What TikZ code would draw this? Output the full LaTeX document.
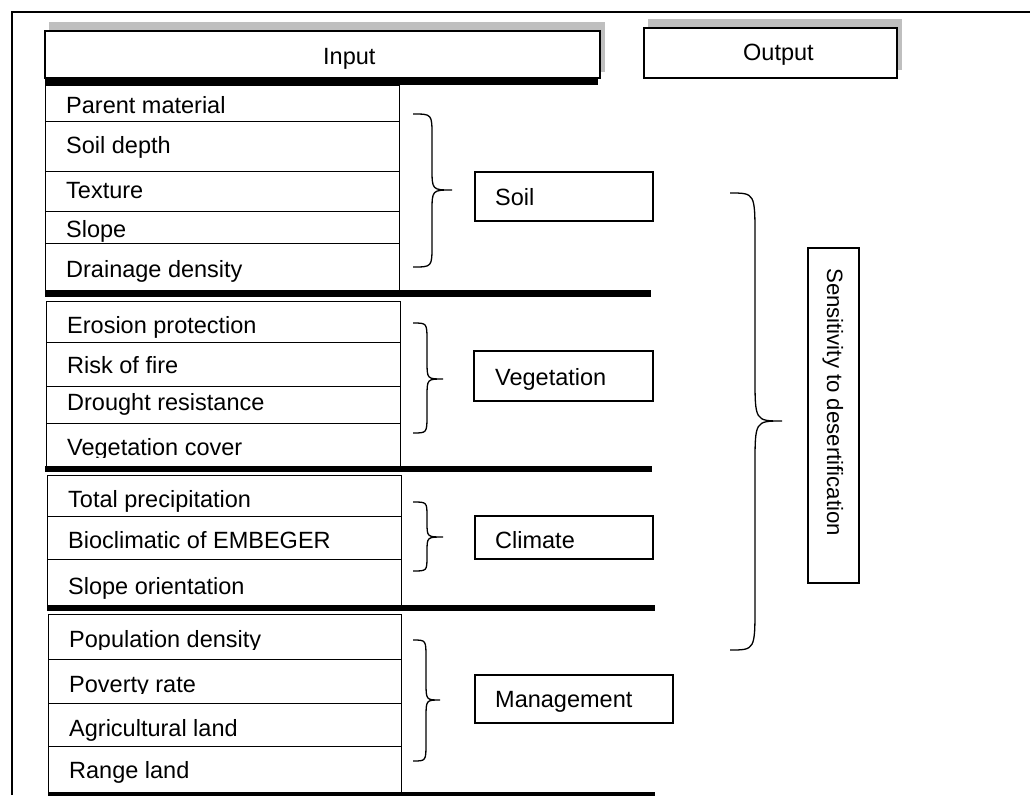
\documentclass[tikz,border=0pt]{standalone}
\usepackage{fontspec}
\setmainfont{Liberation Sans}
\begin{document}
\begin{tikzpicture}[x=1pt,y=-1pt,
  rowbox/.style={draw=black,line width=1pt},
  labelbox/.style={draw=black,line width=1.3pt},
  bar/.style={fill=black},
  shade/.style={fill=black!25},
  txt/.style={inner sep=0pt,anchor=base west,font=\fontsize{23.5}{28}\selectfont},
  brace/.style={draw=black,line width=1.3pt}]
\useasboundingbox (0,0) rectangle (1030,795);
% outer frame
\draw[line width=1.3pt] (12,795) -- (12,12) -- (1030,12);
% header shadows and boxes
\fill[shade] (49,22) rectangle (605,72);
\draw[labelbox,fill=white] (45,31) rectangle (600,78);
\node[txt] (input) at (323,64) {Input};
\fill[bar] (45,78) rectangle (598,85);
\fill[shade] (648,19) rectangle (902,70);
\draw[labelbox,fill=white] (644,28) rectangle (897,78);
\node[txt] (output) at (743,60) {Output};
% soil rows
\foreach \a/\b in {85/121,121/171,171/211,211/243,243/290}
  \draw[rowbox] (45,\a) rectangle (399,\b);
\node[txt] (pm) at (66,113) {Parent material};
\node[txt] (sd) at (66,153) {Soil depth};
\node[txt] (tx) at (66,198) {Texture};
\node[txt] (sl) at (66,237) {Slope};
\node[txt] (dd) at (66,277) {Drainage density};
\fill[bar] (45,290) rectangle (651,297);
% vegetation rows
\foreach \a/\b in {301/342,342/386,386/423,423/466}
  \draw[rowbox] (46,\a) rectangle (400,\b);
\node[txt] (ep) at (67,333) {Erosion protection};
\node[txt] (rf) at (67,373) {Risk of fire};
\node[txt] (dr) at (67,410) {Drought resistance};
\begin{scope}
  \clip (40,420) rectangle (405,457);
  \node[txt] (vc) at (67,455) {Vegetation cover};
\end{scope}
\fill[bar] (45,466) rectangle (652,472);
% climate rows
\foreach \a/\b in {475/516,516/559,559/606}
  \draw[rowbox] (47,\a) rectangle (401,\b);
\node[txt] (tp) at (68,507) {Total precipitation};
\node[txt] (bc) at (68,548) {Bioclimatic of EMBEGER};
\node[txt] (so) at (68,594) {Slope orientation};
\fill[bar] (47,605) rectangle (655,611);
% management rows
\foreach \a/\b in {614/659,659/703,703/746,746/792}
  \draw[rowbox] (48,\a) rectangle (401,\b);
\begin{scope}
  \clip (40,612) rectangle (405,649);
  \node[txt] (pd) at (69,647) {Population density};
\end{scope}
\begin{scope}
  \clip (40,657) rectangle (405,693);
  \node[txt] (pr) at (69,692) {Poverty rate};
\end{scope}
\begin{scope}
  \clip (40,700) rectangle (405,740);
  \node[txt] (al) at (69,736) {Agricultural land};
\end{scope}
\begin{scope}
  \clip (40,744) rectangle (405,782);
  \node[txt] (rl) at (69,778) {Range land};
\end{scope}
\fill[bar] (48,792) rectangle (655,797);
% group boxes
\draw[labelbox] (475,172) rectangle (653,221);
\node[txt] (soil) at (495,205) {Soil};
\draw[labelbox] (474,351) rectangle (653,401);
\node[txt] (veg) at (495,385) {Vegetation};
\draw[labelbox] (475,516) rectangle (653,559);
\node[txt] (clim) at (495,548) {Climate};
\draw[labelbox] (475,675) rectangle (673,723);
\node[txt] (mgmt) at (495,707) {Management};
% output box
\draw[labelbox] (808,248) rectangle (859,583);
\node[txt,rotate=-90,font=\fontsize{22.2}{26}\selectfont] (sens) at (827,268) {Sensitivity to desertification};
% braces
\newcommand\mybrace[7]{%
  \draw[brace] (#1,#4) .. controls (#2,#4) .. (#2,#4+#7) -- (#2,#5-#7)
    .. controls (#2,#5) .. (#3,#5) .. controls (#2,#5) .. (#2,#5+#7)
    -- (#2,#6-#7) .. controls (#2,#6) .. (#1,#6);}
\mybrace{413}{432}{452}{114}{190}{267}{22}
\mybrace{413}{427}{443}{323}{379}{433}{18}
\mybrace{413}{427}{443}{502}{537}{571}{15}
\mybrace{413}{426}{440}{640}{700}{761}{18}
\mybrace{730}{755}{782}{193}{421}{650}{45}
\end{tikzpicture}
\end{document}
